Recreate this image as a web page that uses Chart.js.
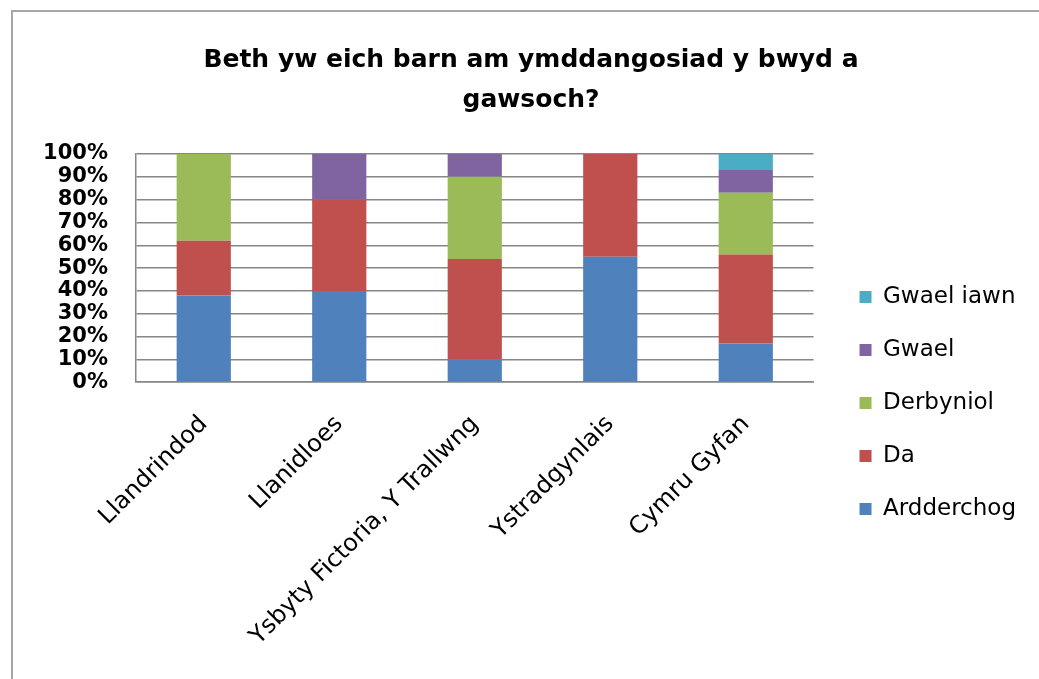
<!DOCTYPE html>
<html>
<head>
<meta charset="utf-8">
<script src="https://cdn.jsdelivr.net/npm/chart.js@4/dist/chart.umd.min.js"></script>
<style>
  html, body { margin:0; padding:0; background:#fff; overflow:hidden; }
  #wrap { position:relative; width:1039px; height:679px; }
  #frame { position:absolute; left:11px; top:10px; width:1040px; height:680px; border:2px solid #a6a6a6; box-sizing:border-box; }
  canvas { position:absolute; left:0; top:0; }
</style>
</head>
<body>
<div id="wrap">
  <div id="frame"></div>
  <canvas id="chart" width="1039" height="679"></canvas>
</div>
<script>
// categories
const sites = ["Llandrindod", "Llanidloes", "Ysbyty Fictoria, Y Trallwng", "Ystradgynlais", "Cymru Gyfan"];

// percentages per answer
const ardderchog = [38, 40, 10, 55, 17];
const da         = [24, 40, 44, 45, 39];
const derbyniol  = [38, 0, 36, 0, 27];
const gwael      = [0, 20, 10, 0, 10];
const gwaelIawn  = [0, 0, 0, 0, 7];

const yTicks = [0, 10, 20, 30, 40, 50, 60, 70, 80, 90, 100];

const titleLines = ["Beth yw eich barn am ymddangosiad y bwyd a", "gawsoch?"];

const series = [
  {label:"Ardderchog", data:ardderchog, color:"#4F81BD"},
  {label:"Da", data:da, color:"#C0504D"},
  {label:"Derbyniol", data:derbyniol, color:"#9BBB59"},
  {label:"Gwael", data:gwael, color:"#8064A2"},
  {label:"Gwael iawn", data:gwaelIawn, color:"#4BACC6"}
];

const ctx = document.getElementById("chart").getContext("2d");
new Chart(ctx, {
  type: "bar",
  data: {
    labels: sites,
    datasets: series.map(s => ({
      label: s.label,
      data: s.data,
      backgroundColor: s.color,
      borderWidth: 0,
      barPercentage: 0.4,
      categoryPercentage: 1
    }))
  },
  options: {
    responsive: false,
    animation: false,
    layout: { padding: { left: 36, right: 13, top: 0, bottom: 0 } },
    plugins: {
      title: {
        display: true,
        text: titleLines,
        color: "#000",
        font: { family: "DejaVu Sans", size: 25, weight: "bold", lineHeight: 1.6 },
        padding: { top: 40, bottom: 34 }
      },
      legend: {
        position: "right",
        reverse: true,
        maxWidth: 230,
        // empty title only pushes the items down
        title: { display: true, text: " ", font: { size: 10, lineHeight: 1.2 }, padding: { top: 115, bottom: 0 } },
        labels: {
          color: "#000",
          font: { family: "DejaVu Sans", size: 23 },
          boxWidth: 12,
          boxHeight: 12,
          padding: 30
        }
      },
      tooltip: { enabled: false }
    },
    scales: {
      x: {
        stacked: true,
        grid: { display: false, drawTicks: false },
        border: { color: "#868686", width: 1.5 },
        ticks: {
          color: "#000",
          font: { family: "DejaVu Sans", size: 24 },
          minRotation: 45,
          maxRotation: 45,
          padding: 28
        }
      },
      y: {
        stacked: true,
        min: 0,
        max: 100,
        afterBuildTicks: axis => { axis.ticks = yTicks.map(v => ({ value: v })); },
        afterFit: axis => { axis.width = 100; },
        grid: { color: "#868686", lineWidth: 1.5, drawTicks: false },
        border: { color: "#868686", width: 1.5 },
        ticks: {
          color: "#000",
          autoSkip: false,
          padding: 28,
          font: { family: "DejaVu Sans", size: 21, weight: "bold", lineHeight: 1 },
          callback: v => v + "%"
        }
      },
      // spacer between plot and legend
      gap: {
        position: "right",
        display: true,
        grid: { display: false },
        border: { display: false },
        ticks: { display: false },
        afterFit: axis => { axis.width = 16; }
      }
    }
  }
});
</script>
</body>
</html>
